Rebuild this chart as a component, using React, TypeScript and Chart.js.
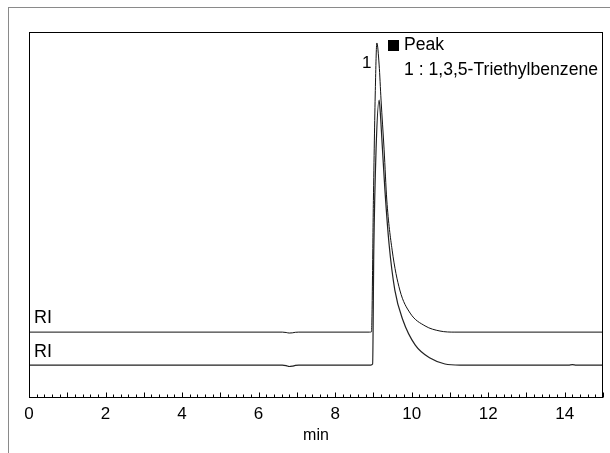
import React, { useEffect, useRef } from "react";
import { Chart, registerables } from "chart.js";

Chart.register(...registerables);

// ---- data ----
const upperTimes = [0, 6.62, 6.72, 6.8, 6.88, 6.96, 7.05, 8.9, 8.95, 9.0, 9.05, 9.09, 9.15, 9.2, 9.28, 9.35, 9.49, 9.69, 9.96, 10.35, 10.74, 11.13, 15];
const upperSignal = [18, 18, 17.9, 17.75, 17.8, 17.95, 18, 18, 18.1, 54, 84, 97, 91, 81.4, 67.8, 54.1, 40.4, 29.5, 23.2, 19.7, 18.3, 18, 18];
const lowerTimes = [0, 6.62, 6.72, 6.8, 6.88, 6.96, 7.05, 8.93, 8.98, 9.01, 9.07, 9.15, 9.18, 9.22, 9.3, 9.41, 9.56, 9.77, 10.09, 10.48, 10.87, 11.26, 14.1, 14.2, 14.3, 15];
const lowerSignal = [9, 9, 8.85, 8.6, 8.7, 8.9, 9, 9, 9.3, 40, 68, 81.4, 78, 71, 57, 42, 29.5, 21.3, 14.5, 10.9, 9.3, 9, 9, 9.1, 9, 9];

const upperBaseline = 18;
const lowerBaseline = 9;
const traceLabels = ["RI", "RI"];
const peakNumber = "1";
const peakTime = 9.09;
const peakHeight = 97;
const legendTitle = "Peak";
const legendEntries = ["1 : 1,3,5-Triethylbenzene"];
const xTickLabels = [0, 2, 4, 6, 8, 10, 12, 14];
const xMin = 0;
const xMax = 15;
const yMin = 0;
const yMax = 100;
const minorStep = 0.2;
const majorStep = 1;
const axisTitle = "min";

const FONT = "'Liberation Sans', Arial, sans-serif";

const decorPlugin = {
  id: "decor",
  beforeDraw(chart: any) {
    const { ctx, width, height } = chart;
    ctx.save();
    ctx.fillStyle = "#ffffff";
    ctx.fillRect(0, 0, width, height);
    ctx.strokeStyle = "#8a8a8a";
    ctx.lineWidth = 1;
    ctx.strokeRect(8.5, 7.5, width + 20, height + 20);
    ctx.restore();
  },
  afterDraw(chart: any) {
    const { ctx, chartArea: a, scales } = chart;
    const x = scales.x;
    const y = scales.y;
    ctx.save();
    const L = Math.round(a.left) + 0.5;
    const T = Math.round(a.top) + 0.5;
    const R = Math.round(a.right) - 0.5;
    const B = Math.round(a.bottom) - 0.5;
    ctx.strokeStyle = "#000";
    ctx.lineWidth = 1;
    ctx.strokeRect(L, T, R - L, B - T);

    // inside ticks
    const n = Math.round((xMax - xMin) / minorStep);
    const perMajor = Math.round(majorStep / minorStep);
    ctx.beginPath();
    for (let i = 0; i <= n; i++) {
      const v = xMin + i * minorStep;
      const px = Math.round(x.getPixelForValue(v)) + 0.5;
      const len = i % perMajor === 0 ? 5 : 3;
      ctx.moveTo(px, B);
      ctx.lineTo(px, B - len);
    }
    ctx.stroke();

    // trace labels
    ctx.fillStyle = "#000";
    ctx.font = `18px ${FONT}`;
    ctx.textAlign = "left";
    ctx.textBaseline = "alphabetic";
    ctx.fillText(traceLabels[0], a.left + 5, y.getPixelForValue(upperBaseline) - 9);
    ctx.fillText(traceLabels[1], a.left + 5, y.getPixelForValue(lowerBaseline) - 8);

    // peak number
    ctx.font = `17px ${FONT}`;
    ctx.textAlign = "center";
    ctx.textBaseline = "middle";
    ctx.fillText(peakNumber, x.getPixelForValue(peakTime) - 10, y.getPixelForValue(peakHeight) + 20);

    // legend
    ctx.font = `17.6px ${FONT}`;
    ctx.textAlign = "left";
    const w = ctx.measureText(legendEntries[0]).width;
    const textLeft = a.right - 5 - w;
    ctx.fillText(legendTitle, textLeft, a.top + 13);
    ctx.fillText(legendEntries[0], textLeft, a.top + 38);
    ctx.fillRect(Math.round(textLeft - 16), Math.round(a.top + 8), 11, 11);
    ctx.restore();
  },
};

export default function App() {
  const ref = useRef<HTMLCanvasElement | null>(null);
  useEffect(() => {
    if (!ref.current) return;
    const chart = new Chart(ref.current, {
      type: "line",
      data: {
        datasets: [
          {
            data: upperTimes.map((t, i) => ({ x: t, y: upperSignal[i] })),
            borderColor: "#111",
            borderWidth: 1,
            pointRadius: 0,
            cubicInterpolationMode: "monotone",
            fill: false,
          },
          {
            data: lowerTimes.map((t, i) => ({ x: t, y: lowerSignal[i] })),
            borderColor: "#222",
            borderWidth: 1.2,
            pointRadius: 0,
            cubicInterpolationMode: "monotone",
            fill: false,
          },
        ],
      },
      options: {
        responsive: false,
        animation: false,
        devicePixelRatio: 1,
        layout: { padding: { left: 29, right: 7, top: 32, bottom: 0 } },
        plugins: { legend: { display: false }, tooltip: { enabled: false } },
        scales: {
          x: {
            type: "linear",
            min: xMin,
            max: xMax,
            grid: { display: false, drawTicks: false },
            border: { display: false },
            afterBuildTicks: (s: any) => {
              s.ticks = xTickLabels.map((v) => ({ value: v }));
            },
            afterFit: (s: any) => {
              s.height = 55;
            },
            ticks: {
              autoSkip: false,
              maxRotation: 0,
              padding: 6,
              color: "#000",
              font: { family: FONT, size: 17 },
            },
            title: {
              display: true,
              text: axisTitle,
              color: "#000",
              font: { family: FONT, size: 16 },
              padding: { top: 0, bottom: 8 },
            },
          },
          y: {
            display: false,
            min: yMin,
            max: yMax,
          },
        },
      },
      plugins: [decorPlugin],
    } as any);
    return () => chart.destroy();
  }, []);
  return (
    <div style={{ position: "fixed", left: 0, top: 0, width: 610, height: 453 }}>
      <canvas ref={ref} width={610} height={453} style={{ display: "block" }} />
    </div>
  );
}
